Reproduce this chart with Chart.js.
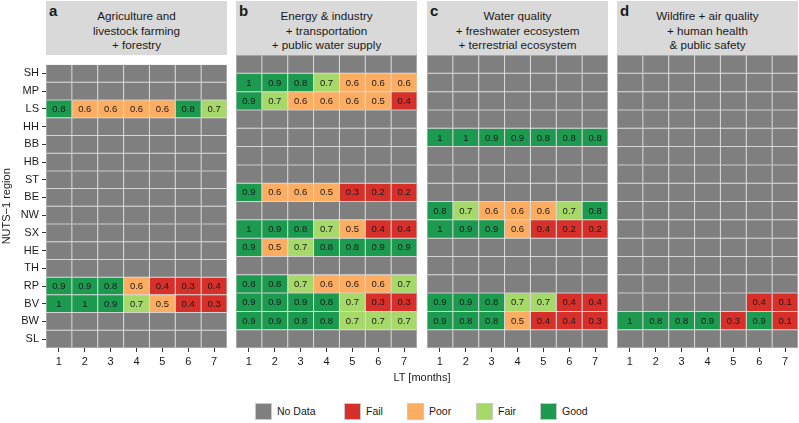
<!DOCTYPE html>
<html><head><meta charset="utf-8">
<script src="https://cdn.jsdelivr.net/npm/chart.js@4"></script>
<style>
body{margin:0;background:#fff;font-family:"Liberation Sans",Arial,sans-serif;}
#fig{position:relative;width:799px;height:423px;overflow:hidden;background:#fff;}
.strip{position:absolute;top:1px;height:54px;background:#d9d9d9;}
.strip .lab{position:absolute;left:3px;top:2px;font-weight:bold;font-size:15px;line-height:15px;color:#1a1a1a;}
.strip .ttl{position:absolute;left:0;right:0;top:8px;text-align:center;font-size:11.7px;line-height:14.5px;color:#1a1a1a;}
canvas{position:absolute;top:55px;}
.xtitle{position:absolute;left:46px;width:752px;top:371px;text-align:center;font-size:11px;color:#1a1a1a;}
.leg{position:absolute;top:403px;height:17px;}
.leg .box{position:absolute;left:0;top:0;width:17px;height:17px;box-sizing:border-box;border:0.5px solid #c8c8c8;}
.leg .txt{position:absolute;left:22px;top:2px;font-size:10.5px;line-height:13px;color:#1a1a1a;white-space:nowrap;}
</style>
</head><body>
<div id="fig">
  <div class="strip" style="left:46px;width:181px;"><div class="lab">a</div><div class="ttl">Agriculture and<br>livestock farming<br>+ forestry</div></div>
  <div class="strip" style="left:236px;width:181px;"><div class="lab">b</div><div class="ttl">Energy &amp; industry<br>+ transportation<br>+ public water supply</div></div>
  <div class="strip" style="left:427px;width:181px;"><div class="lab">c</div><div class="ttl">Water quality<br>+ freshwater ecosystem<br>+ terrestrial ecosystem</div></div>
  <div class="strip" style="left:617px;width:181px;"><div class="lab">d</div><div class="ttl">Wildfire + air quality<br>+ human health<br>&amp; public safety</div></div>
  <canvas id="ca" width="227" height="325" style="left:0px;"></canvas>
  <canvas id="cb" width="181" height="325" style="left:236px;"></canvas>
  <canvas id="cc" width="181" height="325" style="left:427px;"></canvas>
  <canvas id="cd" width="181" height="325" style="left:617px;"></canvas>
  <div class="xtitle">LT [months]</div>
  <div id="legend"></div>
</div>
<script>
// ---- data ----
const regions = ['SH','MP','LS','HH','BB','HB','ST','BE','NW','SX','HE','TH','RP','BV','BW','SL'];
const months = [1,2,3,4,5,6,7];
const categoryNames = ['No Data','Fail','Poor','Fair','Good'];

// panel a: Agriculture and livestock farming + forestry
const agriculture = {
  LS: [0.8,0.6,0.6,0.6,0.6,0.8,0.7],
  RP: [0.9,0.9,0.8,0.6,0.4,0.3,0.4],
  BV: [1,1,0.9,0.7,0.5,0.4,0.3]
};
// panel b: Energy & industry + transportation + public water supply
const energy = {
  MP: [1,0.9,0.8,0.7,0.6,0.6,0.6],
  LS: [0.9,0.7,0.6,0.6,0.6,0.5,0.4],
  BE: [0.9,0.6,0.6,0.5,0.3,0.2,0.2],
  SX: [1,0.9,0.8,0.7,0.5,0.4,0.4],
  HE: [0.9,0.5,0.7,0.8,0.8,0.9,0.9],
  RP: [0.8,0.8,0.7,0.6,0.6,0.6,0.7],
  BV: [0.9,0.9,0.9,0.8,0.7,0.3,0.3],
  BW: [0.9,0.9,0.8,0.8,0.7,0.7,0.7]
};
// panel c: Water quality + freshwater ecosystem + terrestrial ecosystem
const water = {
  BB: [1,1,0.9,0.9,0.8,0.8,0.8],
  NW: [0.8,0.7,0.6,0.6,0.6,0.7,0.8],
  SX: [1,0.9,0.9,0.6,0.4,0.2,0.2],
  BV: [0.9,0.9,0.8,0.7,0.7,0.4,0.4],
  BW: [0.9,0.8,0.8,0.5,0.4,0.4,0.3]
};
// panel d: Wildfire + air quality + human health & public safety
const wildfire = {
  BV: [null,null,null,null,null,0.4,0.1],
  BW: [1,0.8,0.8,0.9,0.3,0.9,0.1]
};

// ---- styles ----
const FONT = '"Liberation Sans", Arial, sans-serif';
const COLORS = {'No Data':'#7f7f7f','Fail':'#d7302a','Poor':'#fdad61','Fair':'#a6d96a','Good':'#1b9a50'};
function categoryOf(v){
  if (v == null) return 'No Data';
  if (v >= 0.8) return 'Good';
  if (v >= 0.7) return 'Fair';
  if (v >= 0.5) return 'Poor';
  return 'Fail';
}

const valueLabels = {
  id:'valueLabels',
  afterDatasetsDraw(chart){
    const ctx = chart.ctx;
    ctx.save();
    ctx.font = '9.5px ' + FONT;
    ctx.fillStyle = '#1a1a1a';
    ctx.textAlign = 'center';
    ctx.textBaseline = 'middle';
    chart.data.datasets.forEach((ds, di) => {
      const meta = chart.getDatasetMeta(di);
      meta.data.forEach((el, i) => {
        const v = ds.values[i];
        if (v == null) return;
        const p = el.getCenterPoint();
        ctx.fillText(String(v), p.x, p.y + 0.5);
      });
    });
    ctx.restore();
  }
};

function makeChart(id, panel, showY){
  const datasets = months.map((m, j) => {
    const vals = regions.map(r => panel[r] ? panel[r][j] : null);
    return {
      label: 'LT ' + m,
      data: regions.map(() => [m - 0.5, m + 0.5]),
      values: vals,
      backgroundColor: vals.map(v => COLORS[categoryOf(v)]),
      borderColor: '#a0a0a0',
      borderWidth: 0.5,
      borderSkipped: false,
      inflateAmount: 0,
      grouped: false,
      barPercentage: 1,
      categoryPercentage: 1
    };
  });
  return new Chart(document.getElementById(id), {
    type: 'bar',
    data: { labels: regions, datasets },
    options: {
      indexAxis: 'y',
      responsive: false,
      animation: false,
      layout: { padding: 0 },
      plugins: { legend: { display: false }, tooltip: { enabled: false } },
      scales: {
        x: {
          type: 'linear', min: 0.5, max: 7.5,
          afterBuildTicks: s => { s.ticks = months.map(v => ({ value: v })); },
          ticks: { font: { size: 11, family: FONT }, color: '#1a1a1a', padding: 3, autoSkip: false, maxRotation: 0 },
          grid: { drawOnChartArea: false, drawTicks: true, tickLength: 4, color: '#333', lineWidth: 1 },
          border: { display: false },
          afterFit: s => { s.height = 32; }
        },
        y: {
          display: showY,
          offset: true,
          ticks: { font: { size: 11, family: FONT }, color: '#1a1a1a', padding: 3, autoSkip: false },
          grid: { offset: false, drawOnChartArea: false, drawTicks: true, tickLength: 4, color: '#333' },
          border: { display: false },
          title: { display: true, text: 'NUTS\u22121 region', font: { size: 11, family: FONT }, color: '#1a1a1a', padding: 0 },
          afterFit: s => { s.width = showY ? 46 : 0; }
        }
      }
    },
    plugins: [valueLabels]
  });
}

makeChart('ca', agriculture, true);
makeChart('cb', energy, false);
makeChart('cc', water, false);
makeChart('cd', wildfire, false);

// legend
const legendX = [255, 344, 407, 476, 540];
const legend = document.getElementById('legend');
categoryNames.forEach((name, i) => {
  const d = document.createElement('div');
  d.className = 'leg';
  d.style.left = legendX[i] + 'px';
  d.innerHTML = '<div class="box" style="background:' + COLORS[name] + '"></div><div class="txt">' + name + '</div>';
  legend.appendChild(d);
});
</script>
</body></html>
